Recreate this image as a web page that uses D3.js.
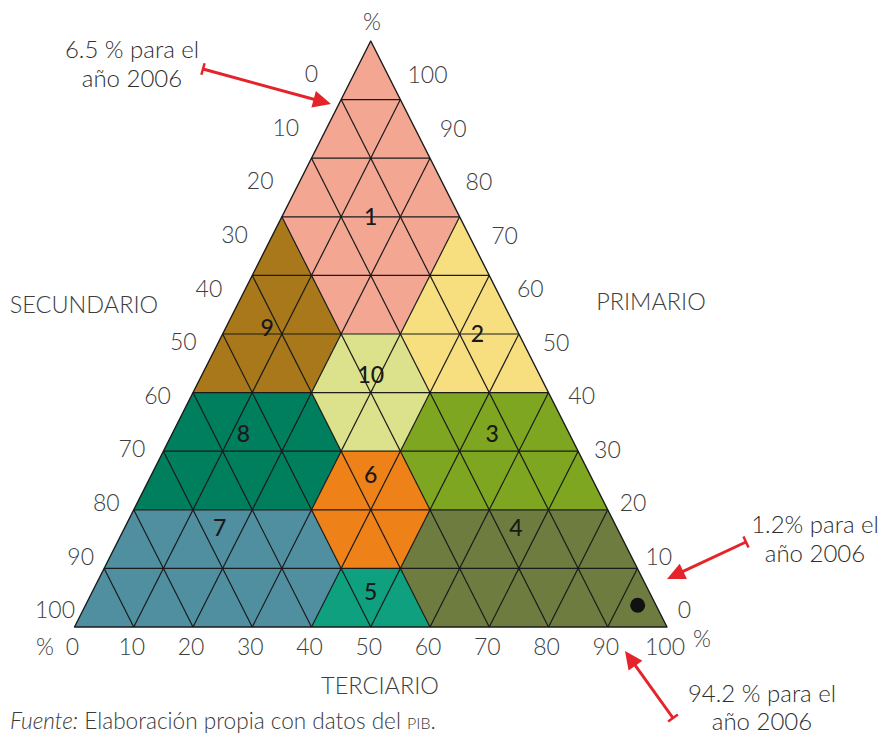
<!DOCTYPE html>
<html>
<head>
<meta charset="utf-8">
<script src="https://cdn.jsdelivr.net/npm/d3@7"></script>
<style>
  html, body { margin: 0; padding: 0; background: #fff; }
  svg { display: block; }
  text { font-family: Lato, Roboto, "Open Sans", sans-serif; }
</style>
</head>
<body>
<svg id="chart" width="884" height="736"></svg>
<script>
// ---------- DATA ----------
// Region ids, colours and polygon vertices as [Primario, Secundario, Terciario] percentages
const regionIds = [1, 2, 3, 4, 5, 6, 7, 8, 9, 10];
const regionColors = ["#F3A793", "#F7DF80", "#7EA620", "#6E7D3F", "#0EA07F",
                      "#EE8118", "#508FA0", "#007F5F", "#A8781B", "#DCE18B"];
const regionVertices = [
  [[100,0,0],[70,30,0],[50,30,20],[50,20,30],[70,0,30]],
  [[70,0,30],[50,20,30],[40,20,40],[40,0,60]],
  [[40,20,40],[30,30,40],[20,30,50],[20,0,80],[40,0,60]],
  [[20,30,50],[10,40,50],[0,40,60],[0,0,100],[20,0,80]],
  [[10,50,40],[0,60,40],[0,40,60],[10,40,50]],
  [[30,40,30],[20,50,30],[10,50,40],[10,40,50],[20,30,50],[30,30,40]],
  [[20,80,0],[0,100,0],[0,60,40],[10,50,40],[20,50,30]],
  [[40,60,0],[20,80,0],[20,50,30],[30,40,30],[40,40,20]],
  [[70,30,0],[40,60,0],[40,40,20],[50,30,20]],
  [[50,30,20],[40,40,20],[30,40,30],[30,30,40],[40,20,40],[50,20,30]]
];
// Where each region number is written [P, S, T]
const regionLabelPos = [
  [70,15,15],[50,7,43],[33,13,54],[17,17,66],[6,47,47],
  [26,37,37],[17,67,16],[33,55,12],[51,42,7],[43,28.5,28.5]
];
// Grid values (every 10 %)
const gridValues = [10, 20, 30, 40, 50, 60, 70, 80, 90];
// Tick labels
const tickValues = [0, 10, 20, 30, 40, 50, 60, 70, 80, 90, 100];
// Country point (2006) [P, S, T]
const point2006 = [3.7, 3.1, 93.2];
// Annotation texts
const annotationTexts = [
  ["6.5 % para el", "año 2006"],
  ["1.2% para el", "año 2006"],
  ["94.2 % para el", "año 2006"]
];

// ---------- LAYOUT ----------
const svg = d3.select("#chart");
const xL = 74.5, xR = 667, yTop = 41, yBot = 627;
const xScale = d3.scaleLinear().domain([0, 100]).range([xL, xR]);
const yScale = d3.scaleLinear().domain([0, 100]).range([yBot, yTop]);
// barycentric -> screen (triangle with apex above the bottom midpoint)
const proj = ([P, S, T]) => [xScale(T + P / 2), yScale(P)];

const g = svg.append("g");

// Regions
g.selectAll("path.region")
  .data(regionIds)
  .join("path")
  .attr("class", "region")
  .attr("d", (d, i) => "M" + regionVertices[i].map(v => proj(v).join(",")).join("L") + "Z")
  .attr("fill", (d, i) => regionColors[i])
  .attr("stroke", "none");

// Grid lines
const gridColor = "#1b1b1b";
const lines = [];
gridValues.forEach(v => {
  lines.push([[v, 100 - v, 0], [v, 0, 100 - v]]);     // constant Primario
  lines.push([[0, 100 - v, v], [100 - v, 0, v]]);     // constant Terciario
  lines.push([[0, v, 100 - v], [100 - v, v, 0]]);     // constant Secundario
});
g.selectAll("line.grid")
  .data(lines)
  .join("line")
  .attr("class", "grid")
  .attr("x1", d => proj(d[0])[0]).attr("y1", d => proj(d[0])[1])
  .attr("x2", d => proj(d[1])[0]).attr("y2", d => proj(d[1])[1])
  .attr("stroke", gridColor)
  .attr("stroke-width", 1.2);

// Outline
g.append("path")
  .attr("d", "M" + [[100,0,0],[0,100,0],[0,0,100]].map(v => proj(v).join(",")).join("L") + "Z")
  .attr("fill", "none")
  .attr("stroke", gridColor)
  .attr("stroke-width", 1.4)
  .attr("stroke-linejoin", "round");

// Region numbers
g.selectAll("text.rnum")
  .data(regionIds)
  .join("text")
  .attr("class", "rnum")
  .attr("x", (d, i) => proj(regionLabelPos[i])[0])
  .attr("y", (d, i) => proj(regionLabelPos[i])[1])
  .attr("dy", "0.36em")
  .attr("text-anchor", "middle")
  .attr("font-size", 23)
  .attr("font-weight", 500)
  .attr("fill", "#1a1a1a")
  .text(d => d);

// Point
const pp = proj(point2006);
g.append("circle").attr("cx", pp[0]).attr("cy", pp[1]).attr("r", 7.5).attr("fill", "#111");

// Tick labels
const tickColor = "#3d3d3d";
const tickFont = 23;
const leftX = d3.scaleLinear().domain([0, 100]).range([311.5, 55]);
const leftY = d3.scaleLinear().domain([0, 100]).range([74, 610]);
const rightX = d3.scaleLinear().domain([100, 0]).range([427.5, 684.5]);
const rightY = d3.scaleLinear().domain([100, 0]).range([75, 610]);

const tickG = svg.append("g")
  .attr("fill", tickColor)
  .attr("font-size", tickFont)
  .attr("font-weight", 300)
  .attr("text-anchor", "middle");

tickG.selectAll("text.left")
  .data(tickValues).join("text").attr("class", "left")
  .attr("x", d => leftX(d)).attr("y", d => leftY(d)).attr("dy", "0.36em")
  .text(d => d);
tickG.selectAll("text.right")
  .data(tickValues).join("text").attr("class", "right")
  .attr("x", d => rightX(d)).attr("y", d => rightY(d)).attr("dy", "0.36em")
  .text(d => d);
tickG.selectAll("text.bottom")
  .data(tickValues).join("text").attr("class", "bottom")
  .attr("x", d => xScale(d) - 2).attr("y", 655)
  .text(d => d);

// % signs
tickG.append("text").attr("x", 372).attr("y", 30).text("%");
tickG.append("text").attr("x", 45).attr("y", 655).text("%");
tickG.append("text").attr("x", 702).attr("y", 647).text("%");

// Axis titles
const titleG = svg.append("g")
  .attr("fill", tickColor).attr("font-size", 23.5).attr("font-weight", 300)
  .attr("text-anchor", "middle");
titleG.append("text").attr("x", 84).attr("y", 313).text("SECUNDARIO");
titleG.append("text").attr("x", 651).attr("y", 310).text("PRIMARIO");
titleG.append("text").attr("x", 380).attr("y", 694).text("TERCIARIO");

// Annotations with red arrows
const red = "#E4232A";
const annotLayout = [
  { cx: 132, y1: 58, y2: 87, tail: [203, 69], tip: [331, 104] },
  { cx: 815, y1: 533, y2: 562, tail: [746, 542], tip: [667, 579] },
  { cx: 762, y1: 702, y2: 730, tail: [673, 718], tip: [625, 651] }
];
const annG = svg.append("g");
annotationTexts.forEach((lns, i) => {
  const a = annotLayout[i];
  const t = annG.append("text")
    .attr("text-anchor", "middle").attr("font-size", 24).attr("font-weight", 300)
    .attr("fill", "#2f2f2f");
  t.append("tspan").attr("x", a.cx).attr("y", a.y1).text(lns[0]);
  t.append("tspan").attr("x", a.cx).attr("y", a.y2).text(lns[1]);

  const dx = a.tip[0] - a.tail[0], dy = a.tip[1] - a.tail[1];
  const len = Math.hypot(dx, dy);
  const ux = dx / len, uy = dy / len, nx = -uy, ny = ux;
  const headL = 18, headW = 8.5;
  const bx = a.tip[0] - ux * headL, by = a.tip[1] - uy * headL;
  annG.append("line")
    .attr("x1", a.tail[0]).attr("y1", a.tail[1]).attr("x2", bx + ux * 2).attr("y2", by + uy * 2)
    .attr("stroke", red).attr("stroke-width", 3);
  annG.append("line")
    .attr("x1", a.tail[0] + nx * 6).attr("y1", a.tail[1] + ny * 6)
    .attr("x2", a.tail[0] - nx * 6).attr("y2", a.tail[1] - ny * 6)
    .attr("stroke", red).attr("stroke-width", 2.5);
  annG.append("path")
    .attr("d", `M${a.tip[0]},${a.tip[1]}L${bx + nx * headW},${by + ny * headW}L${bx - nx * headW},${by - ny * headW}Z`)
    .attr("fill", red);
});

// Footnote
const foot = svg.append("text").attr("x", 10).attr("y", 729)
  .attr("font-size", 22.6).attr("fill", "#3a3a3a").attr("font-weight", 300);
foot.append("tspan").attr("font-style", "italic").text("Fuente:");
foot.append("tspan").text(" Elaboración propia con datos del ");
foot.append("tspan").attr("font-size", 16).text("PIB");
foot.append("tspan").text(".");
</script>
</body>
</html>
